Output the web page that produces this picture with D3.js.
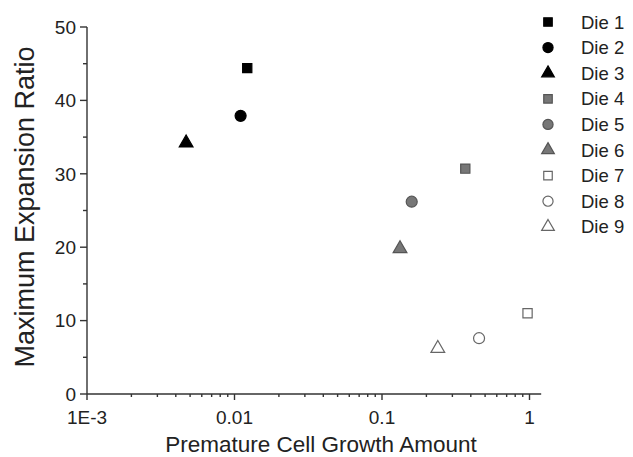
<!DOCTYPE html>
<html lang="en">
<head>
<meta charset="UTF-8">
<title>Maximum Expansion Ratio vs Premature Cell Growth</title>
<script src="https://d3js.org/d3.v7.min.js"></script>
<style>
    body { margin: 0; background: #fff; }
    svg { display: block; font-family: "Liberation Sans", Arial, sans-serif; }
    .axis path, .axis line { stroke: #333; stroke-width: 1.4px; }
    .axis text { fill: #222; font-size: 19px; }
    .title { fill: #222; }
</style>
</head>
<body>
<svg width="633" height="457"></svg>
<script>
    // data
    const dies = ["Die 1", "Die 2", "Die 3", "Die 4", "Die 5", "Die 6", "Die 7", "Die 8", "Die 9"];
    const growth = [0.0122, 0.0110, 0.0047, 0.367, 0.159, 0.1325, 0.97, 0.455, 0.239];
    const ratio = [44.4, 37.9, 34.2, 30.7, 26.2, 19.8, 11.0, 7.6, 6.2];
    const shapes = ["square", "circle", "triangle", "square", "circle", "triangle", "square", "circle", "triangle"];
    const fills = ["black", "black", "black", "gray", "gray", "gray", "open", "open", "open"];
    const xTicks = [0.001, 0.01, 0.1, 1];
    const xTickLabels = ["1E-3", "0.01", "0.1", "1"];
    const yTicks = [0, 10, 20, 30, 40, 50];

    const svg = d3.select("svg");
    const mLeft = 87, mTop = 27, mBottom = 394;

    const x = d3.scaleLog().domain([0.001, 1]).range([mLeft, 529.5]);
    const xEnd = x(1.2);
    const y = d3.scaleLinear().domain([0, 50]).range([mBottom, mTop]);

    // minor ticks on x (2..9 per decade)
    const xMinor = [];
    [0.001, 0.01, 0.1].forEach(d => { for (let k = 2; k <= 9; k++) xMinor.push(d * k); });
    const yMinor = d3.range(5, 50, 10);

    const gx = svg.append("g").attr("class", "axis")
        .attr("transform", `translate(0,${mBottom})`);
    gx.append("line").attr("x1", mLeft).attr("x2", xEnd).attr("y1", 0).attr("y2", 0);
    gx.selectAll(".minor").data(xMinor).join("line").attr("class", "minor")
        .attr("x1", d => x(d)).attr("x2", d => x(d)).attr("y1", 0).attr("y2", 3);
    gx.selectAll(".major").data(xTicks).join("line").attr("class", "major")
        .attr("x1", d => x(d)).attr("x2", d => x(d)).attr("y1", 0).attr("y2", 6);
    gx.selectAll("text").data(xTicks).join("text")
        .attr("x", d => x(d)).attr("y", 30)
        .attr("text-anchor", "middle")
        .text((d, i) => xTickLabels[i]);

    const gy = svg.append("g").attr("class", "axis")
        .attr("transform", `translate(${mLeft},0)`);
    gy.append("line").attr("x1", 0).attr("x2", 0).attr("y1", mTop).attr("y2", mBottom);
    gy.selectAll(".minor").data(yMinor).join("line").attr("class", "minor")
        .attr("x1", 0).attr("x2", -4).attr("y1", d => y(d)).attr("y2", d => y(d));
    gy.selectAll(".major").data(yTicks).join("line").attr("class", "major")
        .attr("x1", 0).attr("x2", -7).attr("y1", d => y(d)).attr("y2", d => y(d));
    gy.selectAll("text").data(yTicks).join("text")
        .attr("x", -11).attr("y", d => y(d)).attr("dy", "0.36em")
        .attr("text-anchor", "end")
        .text(d => d);

    // axis titles
    svg.append("text").attr("class", "title")
        .attr("x", 321).attr("y", 452)
        .attr("text-anchor", "middle").style("font-size", "22.5px")
        .text("Premature Cell Growth Amount");
    svg.append("text").attr("class", "title")
        .attr("transform", "translate(34,207) rotate(-90)")
        .attr("text-anchor", "middle").style("font-size", "27px")
        .text("Maximum Expansion Ratio");

    const symType = { square: d3.symbolSquare, circle: d3.symbolCircle, triangle: d3.symbolTriangle };
    const symSize = { square: 85, circle: 95, triangle: 82 };
    const fillOf = f => f === "black" ? "#000" : f === "gray" ? "#777" : "#fff";
    const strokeOf = f => f === "black" ? "#000" : f === "gray" ? "#555" : "#666";
    const sym = (s, scale) => d3.symbol().type(symType[s]).size(symSize[s] * scale)();

    // points
    svg.append("g").selectAll("path").data(dies).join("path")
        .attr("transform", (d, i) => `translate(${x(growth[i])},${y(ratio[i])})`)
        .attr("d", (d, i) => sym(shapes[i], 1))
        .attr("fill", (d, i) => fillOf(fills[i]))
        .attr("stroke", (d, i) => strokeOf(fills[i]))
        .attr("stroke-width", 1.2);

    // legend
    const lg = svg.append("g").attr("transform", "translate(548,22)");
    const row = lg.selectAll("g").data(dies).join("g")
        .attr("transform", (d, i) => `translate(0,${i * 25.6})`);
    row.append("path")
        .attr("d", (d, i) => sym(shapes[i], 0.85))
        .attr("fill", (d, i) => fillOf(fills[i]))
        .attr("stroke", (d, i) => strokeOf(fills[i]))
        .attr("stroke-width", 1.2);
    row.append("text").attr("x", 33).attr("dy", "0.36em")
        .style("font-size", "18.5px").attr("fill", "#222")
        .text(d => d);
</script>
</body>
</html>
